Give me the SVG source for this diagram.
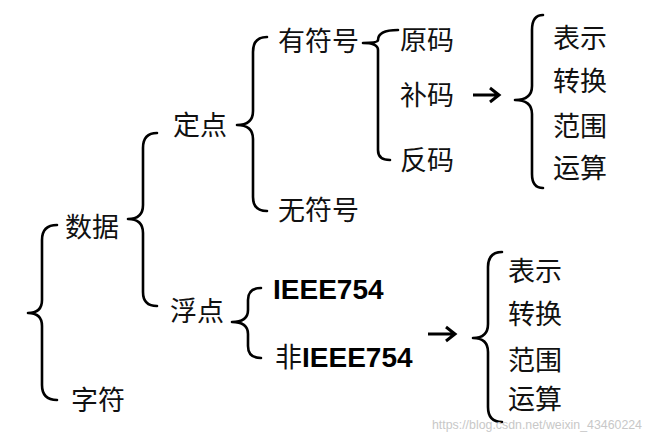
<svg xmlns="http://www.w3.org/2000/svg" width="650" height="439" viewBox="0 0 650 439">
<style>
.cn{font-family:"Noto Sans CJK SC","Noto Sans",sans-serif;font-size:27px;fill:#111}
.en{font-family:"Liberation Sans",Arial,sans-serif;font-size:28px;font-weight:bold;fill:#000}
.br{fill:none;stroke:#000;stroke-width:2.6;stroke-linecap:round;stroke-linejoin:round}
.ar{fill:none;stroke:#000;stroke-width:3;stroke-linecap:butt;stroke-linejoin:miter}
.wm{font-family:"Liberation Sans",Arial,sans-serif;font-size:13px;fill:#c8c8c8}
</style>
<rect width="650" height="439" fill="#fff"/>
<g id="connectors">
<path class="br" d="M57,225 Q42,225 42,240 L42,300 Q42,313 28,313 Q42,313 42,326 L42,385 Q42,400 57,400"/>
<path class="br" d="M157,133 Q143,133 143,148 L143,205 Q143,219 128,219 Q143,219 143,233 L143,292 Q143,306 157,306"/>
<path class="br" d="M267,37 Q253,37 253,52 L253,111 Q253,125 237,125 Q253,125 253,139 L253,197 Q253,211 267,211"/>
<path class="br" d="M398,30 Q378,30 378,40 Q378,43 363,43 Q378,43 378,50 L378,150 Q378,160 390,160"/>
<path class="br" d="M543,15 Q532,15 532,30 L532,86 Q532,100 515,100 Q532,100 532,114 L532,174 Q532,188 543,188"/>
<path class="br" d="M261,288 Q248,288 248,300 L248,310 Q248,322 232,322 Q248,322 248,334 L248,346 Q248,358 261,358"/>
<path class="br" d="M502,252 Q488,252 488,267 L488,324 Q488,338 473,338 Q488,338 488,352 L488,407 Q488,422 502,422"/>
<path class="ar" d="M473,95 H499 M490,88 L499,95 L490,102"/>
<path class="ar" d="M428,334 H455 M446,327 L455,334 L446,341"/>
</g>
<g id="n-shuju"><text class="cn" x="65" y="237">数据</text></g>
<g id="n-zifu"><text class="cn" x="71" y="410">字符</text></g>
<g id="n-dingdian"><text class="cn" x="173" y="135">定点</text></g>
<g id="n-fudian"><text class="cn" x="170" y="321">浮点</text></g>
<g id="n-youfuhao"><text class="cn" x="278" y="51">有符号</text></g>
<g id="n-wufuhao"><text class="cn" x="278" y="220">无符号</text></g>
<g id="n-yuanma"><text class="cn" x="400" y="50">原码</text></g>
<g id="n-buma"><text class="cn" x="400" y="105">补码</text></g>
<g id="n-fanma"><text class="cn" x="400" y="170">反码</text></g>
<g id="n-list1">
<text class="cn" x="553" y="48">表示</text>
<text class="cn" x="553" y="91">转换</text>
<text class="cn" x="553" y="136">范围</text>
<text class="cn" x="553" y="178">运算</text>
</g>
<g id="n-ieee"><text class="en" x="273" y="299">IEEE754</text></g>
<g id="n-nonieee"><text x="275" y="367"><tspan class="cn">非</tspan><tspan class="en">IEEE754</tspan></text></g>
<g id="n-list2">
<text class="cn" x="508" y="281">表示</text>
<text class="cn" x="508" y="324">转换</text>
<text class="cn" x="508" y="370">范围</text>
<text class="cn" x="508" y="409">运算</text>
</g>
<text class="wm" x="432" y="429" textLength="210" lengthAdjust="spacingAndGlyphs">https://blog.csdn.net/weixin_43460224</text>
</svg>
